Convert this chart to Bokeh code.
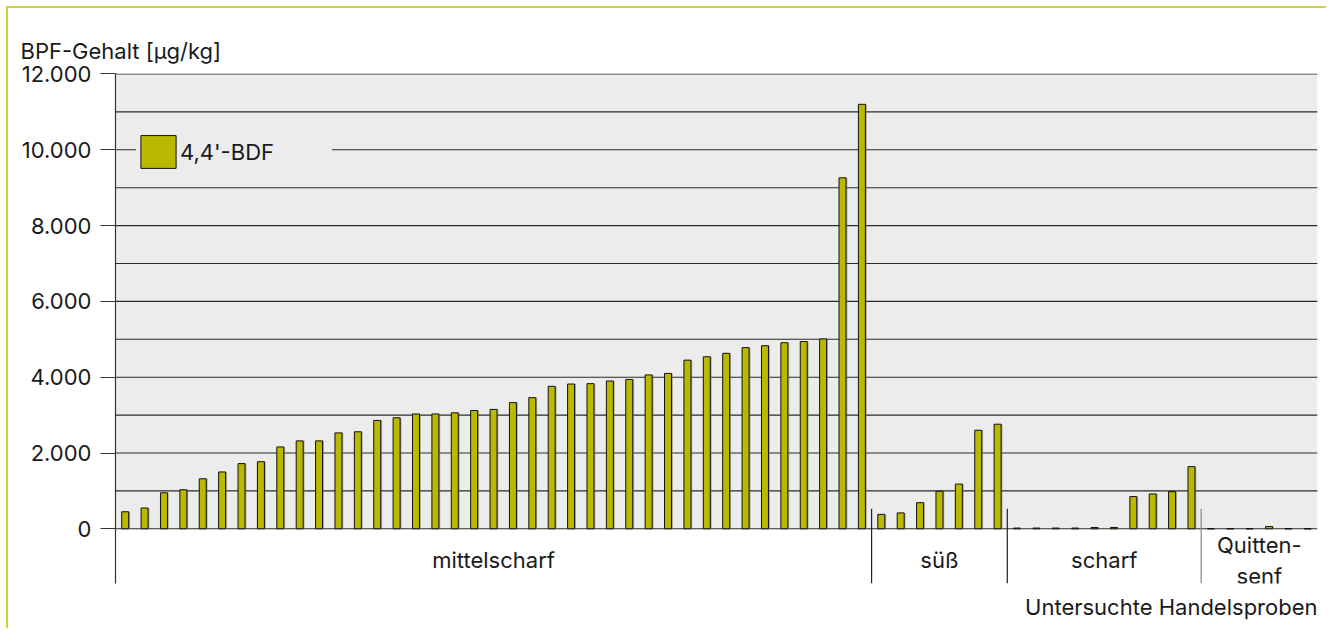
from bokeh.plotting import figure
from bokeh.models import Range1d, FixedTicker, Legend, LegendItem, Title, ColumnDataSource
from bokeh.core.properties import value
from bokeh.transform import dodge
from bokeh.embed import file_html
from bokeh.resources import INLINE

# ---------------- data ----------------
groups = ["mittelscharf", "süß", "scharf", "Quitten-\nsenf"]
mittelscharf = [450, 550, 950, 1030, 1320, 1500, 1720, 1770, 2160, 2320, 2320, 2530, 2560,
                2860, 2930, 3030, 3030, 3060, 3120, 3150, 3330, 3460, 3760, 3820, 3830, 3900,
                3940, 4060, 4100, 4450, 4540, 4630, 4780, 4830, 4910, 4940, 5010, 9260, 11200]
suess = [380, 420, 690, 990, 1180, 2600, 2760]
scharf = [20, 20, 20, 20, 35, 35, 850, 920, 980, 1640]
quittensenf = [0, 0, 0, 60, 0, 0]
series_name = "4,4'-BDF"
y_title = "BPF-Gehalt [µg/kg]"
x_title = "Untersuchte Handelsproben"
y_ticks = [0, 2000, 4000, 6000, 8000, 10000, 12000]
y_tick_labels = ["0", "2.000", "4.000", "6.000", "8.000", "10.000", "12.000"]
grid_values = [0, 1000, 2000, 3000, 4000, 5000, 6000, 7000, 8000, 9000, 10000, 11000, 12000]

# ---------------- derived ----------------
group_series = [mittelscharf, suess, scharf, quittensenf]
values = [v for s in group_series for v in s]
n = len(values)
xs = list(range(n))
bounds = []
start = 0
for s in group_series:
    bounds.append((start - 0.5, start + len(s) - 0.5))
    start += len(s)
centers = [(a + b) / 2 for a, b in bounds]
separators = [b for _, b in bounds[:-1]]

FONT = "Inter"
FS = "22px"
BAR = "#b9b900"
W, H = 1320, 622
Y0, Y1 = -1443, 12013
SEP_TOP = 528
LABEL_Y = -836

p = figure(width=W, height=H, output_backend="svg", toolbar_location=None,
           x_range=Range1d(-0.5, n - 0.5), y_range=Range1d(Y0, Y1),
           min_border_left=107, min_border_right=11, min_border_top=65, min_border_bottom=47,
           background_fill_color="white", border_fill_color="white", title=None)
p.outline_line_color = None
p.xgrid.visible = False
p.ygrid.visible = False
p.xaxis.visible = False
p.styles = {"margin-left": "6px", "margin-top": "6px",
            "border-left": "2px solid #cdd23c", "border-top": "2px solid #cdd23c"}

# plot area background (only above the zero line)
p.quad(left=[-0.5], right=[n - 0.5], bottom=[grid_values[0]], top=[grid_values[-1]],
       fill_color="#ececec", line_color=None)

# gridlines
p.segment(x0=[-0.5] * len(grid_values), x1=[n - 0.5] * len(grid_values),
          y0=grid_values, y1=grid_values, line_color="#2a2a2a", line_width=1.1)

src = ColumnDataSource(dict(x=xs, top=values))
p.vbar(x=dodge("x", 0.07), top="top", bottom=0, width=0.36, source=src,
       fill_color="#7a7a7a", fill_alpha=0.6, line_color=None)
bars = p.vbar(x="x", top="top", bottom=0, width=0.36, source=src,
              fill_color=BAR, line_color="#111111", line_width=1)

# group separators below the axis
sep_colors = ["#222222", "#222222", "#888888"]
p.segment(x0=separators, x1=separators, y0=[SEP_TOP] * len(separators), y1=[Y0] * len(separators),
          line_color=sep_colors, line_width=1.2)

# group labels
p.text(x=centers, y=[LABEL_Y] * len(centers), text=groups, text_align="center",
       text_baseline="middle", text_font=value(FONT), text_font_size=FS, text_color="#1a1a1a",
       text_line_height=1.2)

# y axis
ax = p.yaxis[0]
ax.ticker = FixedTicker(ticks=y_ticks)
ax.major_label_overrides = {t: l for t, l in zip(y_ticks, y_tick_labels)}
ax.major_label_text_font = FONT
ax.major_label_text_font_size = FS
ax.major_label_text_color = "#1a1a1a"
ax.major_label_standoff = 9
ax.major_tick_out = 15
ax.major_tick_in = 0
ax.minor_tick_line_color = None
ax.axis_line_color = "#333333"
ax.axis_line_width = 1.2
ax.major_tick_line_color = "#333333"
ax.major_tick_line_width = 1.1

# titles
p.add_layout(Title(text=y_title, align="left", offset=-95, text_font=FONT, text_font_size=FS,
                   text_font_style="normal", text_color="#1a1a1a", standoff=20), "above")
p.add_layout(Title(text=x_title, align="right", text_font=FONT, text_font_size=FS,
                   text_font_style="normal", text_color="#1a1a1a", standoff=16), "below")

# legend
legend = Legend(items=[LegendItem(label=series_name, renderers=[bars])],
                location=(21, 411), background_fill_color="#ececec", background_fill_alpha=1,
                border_line_color=None, padding=8, margin=0, glyph_width=44, glyph_height=41,
                label_standoff=0, label_width=152, label_text_font=FONT, label_text_font_size=FS,
                label_text_color="#1a1a1a", spacing=0)
p.add_layout(legend, "center")

open("out.html", "w").write(file_html(p, INLINE))
